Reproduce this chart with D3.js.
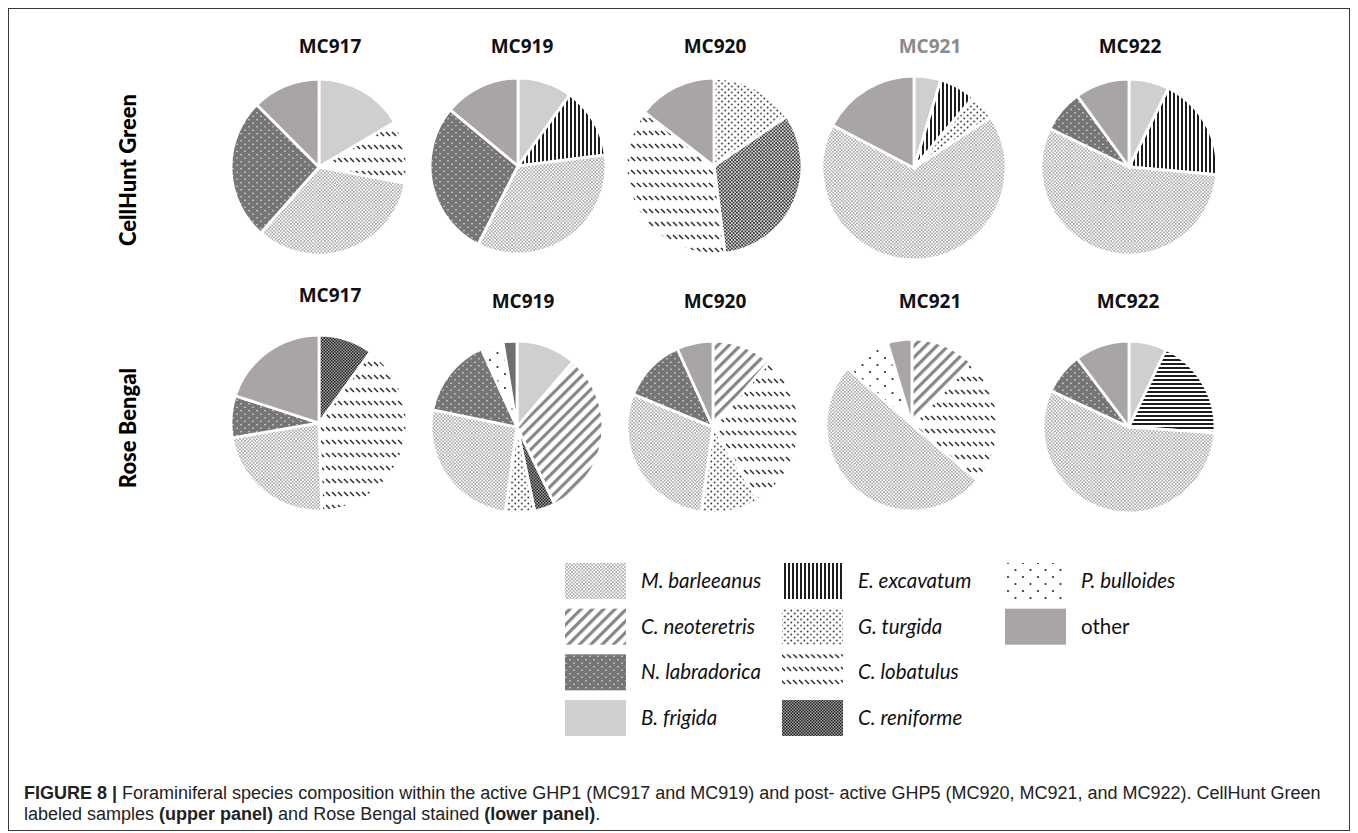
<!DOCTYPE html>
<html>
<head>
<meta charset="utf-8">
<script src="https://cdn.jsdelivr.net/npm/d3@7"></script>
<style>
  html, body { margin: 0; padding: 0; background: #fff; }
  svg { display: block; }
</style>
</head>
<body>
<svg id="fig" width="1358" height="833"></svg>
<script>
// Species shown in the legend (column-major order)
const species = ["M. barleeanus", "C. neoteretris", "N. labradorica", "B. frigida",
                 "E. excavatum", "G. turgida", "C. lobatulus", "C. reniforme",
                 "P. bulloides", "other"];
const samples = ["MC917", "MC919", "MC920", "MC921", "MC922"];
const panels = ["CellHunt Green", "Rose Bengal"];

// CellHunt Green labelled samples: slices clockwise from 12 o'clock (% of assemblage)
const greenMC917Species = ["B. frigida", "C. lobatulus", "M. barleeanus", "N. labradorica", "other"];
const greenMC917Values  = [16.5, 11.5, 33.5, 26, 12.5];
const greenMC919Species = ["B. frigida", "E. excavatum", "M. barleeanus", "N. labradorica", "other"];
const greenMC919Values  = [10, 13, 34.5, 28.5, 14];
const greenMC920Species = ["G. turgida", "M. barleeanus", "C. lobatulus", "other"];
const greenMC920Values  = [15.5, 32.5, 37.5, 14.5];
const greenMC921Species = ["B. frigida", "E. excavatum", "G. turgida", "M. barleeanus", "other"];
const greenMC921Values  = [4.7, 6.4, 4.6, 67, 17.3];
const greenMC922Species = ["B. frigida", "E. excavatum", "M. barleeanus", "N. labradorica", "other"];
const greenMC922Values  = [7.4, 19, 55.8, 7.8, 10];

// Rose Bengal stained samples
const roseMC917Species = ["C. reniforme", "C. lobatulus", "M. barleeanus", "N. labradorica", "other"];
const roseMC917Values  = [10, 39.5, 22.8, 7.7, 20];
const roseMC919Species = ["B. frigida", "C. neoteretris", "C. reniforme", "G. turgida", "M. barleeanus",
                          "N. labradorica", "P. bulloides", "other"];
const roseMC919Values  = [11.3, 31.5, 3.9, 5.5, 26, 15, 4.2, 2.6];
const roseMC920Species = ["C. neoteretris", "C. lobatulus", "G. turgida", "M. barleeanus", "N. labradorica", "other"];
const roseMC920Values  = [11.3, 29.9, 11, 29, 12, 6.8];
const roseMC921Species = ["C. neoteretris", "C. lobatulus", "M. barleeanus", "P. bulloides", "other"];
const roseMC921Values  = [12, 24.2, 50.3, 8.9, 4.6];
const roseMC922Species = ["B. frigida", "E. excavatum", "M. barleeanus", "N. labradorica", "other"];
const roseMC922Values  = [7.1, 19, 55.8, 7.8, 10.3];

const greenPies = [
  [greenMC917Species, greenMC917Values], [greenMC919Species, greenMC919Values],
  [greenMC920Species, greenMC920Values], [greenMC921Species, greenMC921Values],
  [greenMC922Species, greenMC922Values]
];
const rosePies = [
  [roseMC917Species, roseMC917Values], [roseMC919Species, roseMC919Values],
  [roseMC920Species, roseMC920Values], [roseMC921Species, roseMC921Values],
  [roseMC922Species, roseMC922Values]
];

// ---------------------------------------------------------------------------
const svg = d3.select("#fig");
const defs = svg.append("defs");

function pattern(id, w, h, bg, extra) {
  const p = defs.append("pattern").attr("id", id)
    .attr("patternUnits", "userSpaceOnUse").attr("width", w).attr("height", h);
  if (extra) p.attr("patternTransform", extra);
  p.append("rect").attr("width", w).attr("height", h).attr("fill", bg);
  return p;
}
const dot = (p, x, y, r, c) => p.append("circle").attr("cx", x).attr("cy", y).attr("r", r).attr("fill", c);

// fine light dots
let p = pattern("pat-mbar", 3.4, 3.4, "#ffffff");
dot(p, 0.85, 0.85, 0.85, "#8e8e8e"); dot(p, 2.55, 2.55, 0.85, "#8e8e8e");
// denser, darker variant of the same
p = pattern("pat-mbar-dark", 3.4, 3.4, "#e8e8e8");
dot(p, 0.85, 0.85, 1.0, "#2e2e2e"); dot(p, 2.55, 2.55, 1.0, "#2e2e2e");
// wide upward diagonal stripes
p = pattern("pat-cneo", 8, 8, "#ffffff", "rotate(45)");
p.append("rect").attr("x", 0).attr("y", 0).attr("width", 3.2).attr("height", 8).attr("fill", "#878787");
// dark ground with white dots
p = pattern("pat-nlab", 8, 7, "#767676");
dot(p, 2, 1.75, 0.8, "#e6e6e6"); dot(p, 6, 5.25, 0.8, "#e6e6e6");
// vertical black lines
p = pattern("pat-eexc", 4, 4, "#ffffff");
p.append("rect").attr("width", 2).attr("height", 4).attr("fill", "#1e1e1e");
// horizontal black lines
p = pattern("pat-eexc-h", 4, 4, "#ffffff");
p.append("rect").attr("width", 4).attr("height", 2).attr("fill", "#1e1e1e");
// scattered dark dots
p = pattern("pat-gtur", 6.5, 6, "#ffffff");
dot(p, 1.6, 1.5, 0.9, "#2e2e2e"); dot(p, 4.85, 4.5, 0.9, "#2e2e2e");
// rows of short downward dashes
p = pattern("pat-clob", 6, 13, "#ffffff");
p.append("line").attr("x1", 1).attr("y1", 4).attr("x2", 5).attr("y2", 8)
  .attr("stroke", "#2f2f2f").attr("stroke-width", 1.6);
// small checker
p = pattern("pat-cren", 3, 3, "#9c9c9c");
p.append("rect").attr("width", 1.5).attr("height", 1.5).attr("fill", "#262626");
p.append("rect").attr("x", 1.5).attr("y", 1.5).attr("width", 1.5).attr("height", 1.5).attr("fill", "#262626");
// sparse dots
p = pattern("pat-pbul", 15, 14, "#ffffff");
dot(p, 3, 3, 1.1, "#2a2a2a"); dot(p, 10.5, 10, 1.1, "#2a2a2a");

const fillOf = {
  "M. barleeanus": "url(#pat-mbar)",
  "C. neoteretris": "url(#pat-cneo)",
  "N. labradorica": "url(#pat-nlab)",
  "B. frigida": "#cfcfcf",
  "E. excavatum": "url(#pat-eexc)",
  "G. turgida": "url(#pat-gtur)",
  "C. lobatulus": "url(#pat-clob)",
  "C. reniforme": "url(#pat-cren)",
  "P. bulloides": "url(#pat-pbul)",
  "other": "#aaa5a5"
};
// pies that were rendered with an alternative fill for one species
const fillOverride = {
  "CellHunt Green|MC920": { "M. barleeanus": "url(#pat-mbar-dark)" },
  "Rose Bengal|MC919": { "other": "#6e6e6e" },
  "Rose Bengal|MC922": { "E. excavatum": "url(#pat-eexc-h)" }
};

// ---------------------------------------------------------------------------
// frame
svg.append("rect").attr("x", 8.5).attr("y", 8.5).attr("width", 1341).attr("height", 822)
  .attr("fill", "none").attr("stroke", "#3a3a3a").attr("stroke-width", 1);

// column centres (pies in the figure are not evenly spaced)
const colX = d3.scaleOrdinal().domain(samples).range([319, 518, 714, 914, 1129]);
const pieLayout = d3.pie().sort(null).value(d => d.v);

const rows = [
  { panel: panels[0], pies: greenPies, cy: 167, r: 88, titleY: 53,
    dx: [0, 0, 0, 0, 0], rAdj: [0, 0, 0, 4, 0], cyAdj: [0, -1, -1, 1, 0],
    titleDx: [11, 4, 1, 16, 1], labelY: 170 },
  { panel: panels[1], pies: rosePies, cy: 427, r: 86, titleY: 308,
    dx: [0, -1, -1, -2, 0], rAdj: [2, 0, 0, 0, 0], cyAdj: [-4, 0, 0, -2, 0],
    titleDx: [11, 5, 1, 16, -1], titleDy: [-6, 0, 0, 0, 0], labelY: 428 }
];

rows.forEach(row => {
  // rotated panel label
  svg.append("text")
    .attr("transform", `translate(136,${row.labelY}) rotate(-90)`)
    .attr("text-anchor", "middle")
    .style("font-family", "Lato, 'Open Sans', sans-serif")
    .style("font-weight", 900).style("font-size", "22px").attr("fill", "#000")
    .text(row.panel);

  row.pies.forEach(([spList, vals], i) => {
    const name = samples[i];
    const cx = colX(name) + row.dx[i];
    const cy = row.cy + row.cyAdj[i];
    const r = row.r + row.rAdj[i];
    const key = row.panel + "|" + name;
    const over = fillOverride[key] || {};

    svg.append("text")
      .attr("x", colX(name) + row.titleDx[i])
      .attr("y", row.titleY + (row.titleDy ? row.titleDy[i] : 0))
      .attr("text-anchor", "middle")
      .style("font-family", "'Open Sans', sans-serif")
      .style("font-weight", 700).style("font-size", "19px")
      .attr("fill", key === "CellHunt Green|MC921" ? "#8a8a8a" : "#111")
      .text(name);

    const slices = pieLayout(spList.map((s, k) => ({ s, v: vals[k] })));
    const arc = d3.arc().innerRadius(0).outerRadius(r);
    svg.append("g").attr("transform", `translate(${cx},${cy})`)
      .selectAll("path").data(slices).join("path")
      .attr("d", arc)
      .attr("fill", d => over[d.data.s] || fillOf[d.data.s])
      .attr("stroke", "#fff").attr("stroke-width", 2.8).attr("stroke-linejoin", "miter");
  });
});

// ---------------------------------------------------------------------------
// legend
const legendCols = [
  { x: 565, items: species.slice(0, 4) },
  { x: 782, items: species.slice(4, 8) },
  { x: 1005, items: species.slice(8) }
];
const legendRowY = d3.scaleLinear().domain([0, 3]).range([563, 700]);
legendCols.forEach(col => {
  col.items.forEach((s, k) => {
    const y = legendRowY(k);
    svg.append("rect").attr("x", col.x).attr("y", y).attr("width", 61).attr("height", 36)
      .attr("fill", fillOf[s]);
    svg.append("text").attr("x", col.x + 76).attr("y", y + 25)
      .style("font-family", "Lato, sans-serif")
      .style("font-style", s === "other" ? "normal" : "italic")
      .style("font-size", "20.5px").attr("fill", "#111")
      .text(s);
  });
});

// ---------------------------------------------------------------------------
// caption
const capFont = "'Liberation Sans', Arial, sans-serif";
const cap = svg.append("text").attr("x", 24).attr("y", 799)
  .style("font-family", capFont).style("font-size", "18px").attr("fill", "#222");
cap.append("tspan").style("font-weight", 700).text("FIGURE 8 | ");
cap.append("tspan").text("Foraminiferal species composition within the active GHP1 (MC917 and MC919) and post- active GHP5 (MC920, MC921, and MC922). CellHunt Green");
const cap2 = svg.append("text").attr("x", 24).attr("y", 820)
  .style("font-family", capFont).style("font-size", "18px").attr("fill", "#222");
cap2.append("tspan").text("labeled samples ");
cap2.append("tspan").style("font-weight", 700).text("(upper panel)");
cap2.append("tspan").text(" and Rose Bengal stained ");
cap2.append("tspan").style("font-weight", 700).text("(lower panel)");
cap2.append("tspan").text(".");
</script>
</body>
</html>
